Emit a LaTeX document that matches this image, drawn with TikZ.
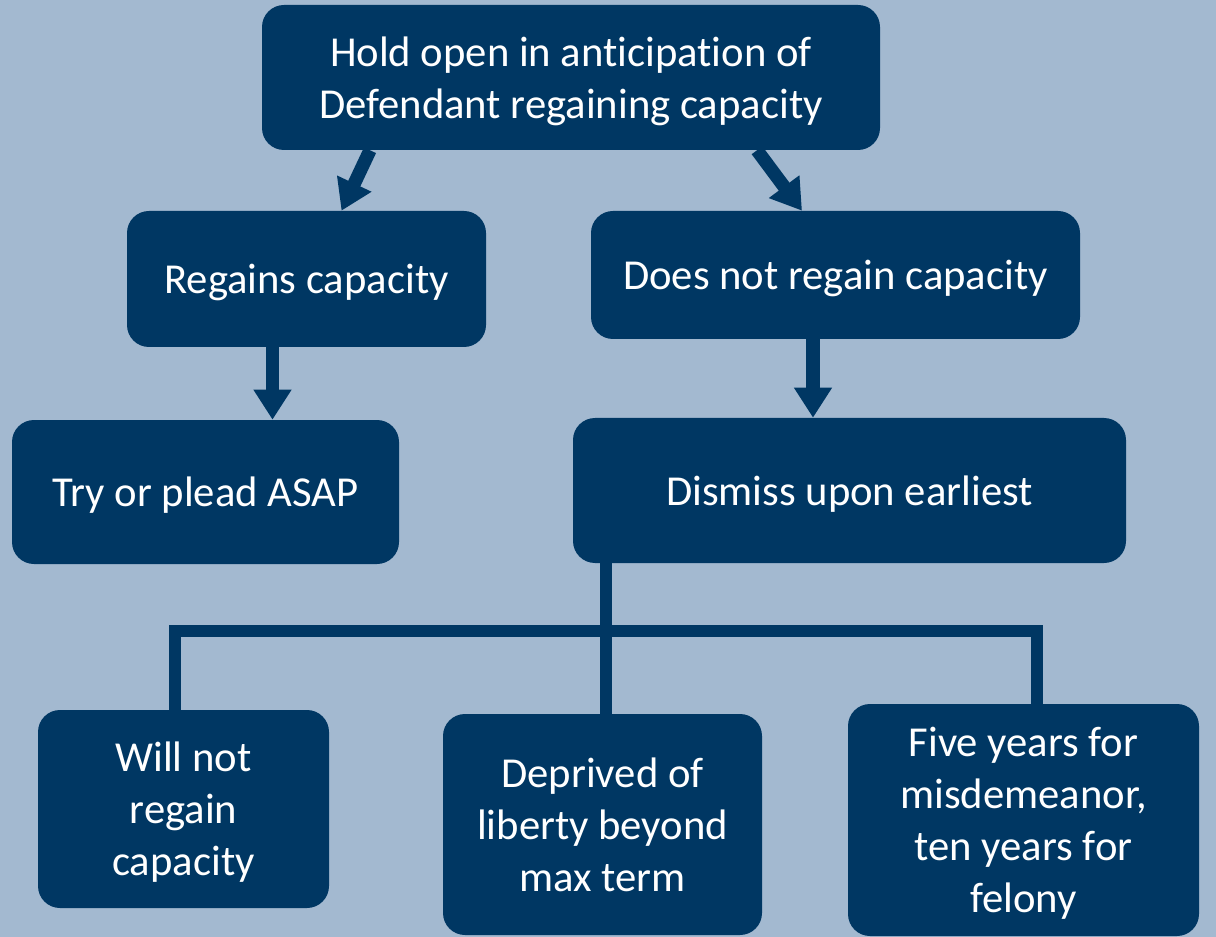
\documentclass[tikz,border=0pt]{standalone}
\usepackage{fontspec}
\setmainfont{Carlito}[Ligatures=NoCommon]
\usetikzlibrary{arrows.meta,calc}
\definecolor{bgblue}{RGB}{163,185,208}
\definecolor{navy}{RGB}{0,55,99}
\tikzset{
  box/.style={fill=navy, draw=none, rounded corners=16.5pt, inner sep=0pt,
    text=white, align=center, font=\fontsize{32}{39}\selectfont,
    % centre the text on its baseline rather than on its descenders
    text depth=0pt},
  flow/.style={draw=navy, line width=10pt,
    -{Triangle[length=22.5pt,width=27pt]}},
  tree/.style={draw=navy, line width=8.6pt, line join=miter}
}
\begin{document}
\begin{tikzpicture}[x=0.75pt,y=-0.75pt]
  \fill[bgblue] (0,0) rectangle (1216,937);
  \useasboundingbox (0,0) rectangle (1216,937);

  % boxes
  \node[box, minimum width=463.5pt, minimum height=108.75pt] (top) at (571,77.5)
    {Hold open in anticipation of\\Defendant regaining capacity};
  \node[box, minimum width=269.25pt, minimum height=102pt] (regains) at (306.5,279)
    {Regains capacity};
  \node[box, minimum width=366.75pt, minimum height=96pt] (notregain) at (835.5,275)
    {Does not regain capacity};
  \node[box, minimum width=290.25pt, minimum height=108pt] (try) at (205.5,492)
    {Try or plead ASAP};
  \node[box, minimum width=414.75pt, minimum height=108.75pt] (dismiss) at (849.5,490.5)
    {Dismiss upon earliest};
  \node[box, minimum width=218.25pt, minimum height=148.5pt] (willnot) at (183.5,809)
    {Will not\\regain\\capacity};
  \node[box, minimum width=239.25pt, minimum height=165.75pt] (deprived) at (602.5,824.5)
    {Deprived of\\liberty beyond\\max term};
  \node[box, minimum width=263.25pt, minimum height=174pt] (five) at (1023.5,820)
    {Five years for\\misdemeanor,\\ten years for\\felony};

  % arrows
  \draw[flow] ($(top.south)+(-201,0)$) -- ($(regains.north)+(35,0)$);
  \draw[flow] ($(top.south)+(186,0)$) -- ($(notregain.north)+(-33.5,0)$);
  \draw[flow] ($(regains.south)+(-34,0)$) -- ($(try.north)+(67,0)$);
  \draw[flow] ($(notregain.south)+(-22.5,0)$) -- ($(dismiss.north)+(-36.5,0)$);

  % branching lines below the dismissal box
  \coordinate (bar) at (0,631);
  \coordinate (wl) at ($(willnot.north)+(-8.5,0)$);
  \coordinate (fr) at ($(five.north)+(13.5,0)$);
  \draw[tree] ($(dismiss.south)+(-243.5,0)$) -- ($(deprived.north)+(3.5,0)$);
  \draw[tree] (wl) -- (wl |- bar) -- (fr |- bar) -- (fr);
\end{tikzpicture}
\end{document}
